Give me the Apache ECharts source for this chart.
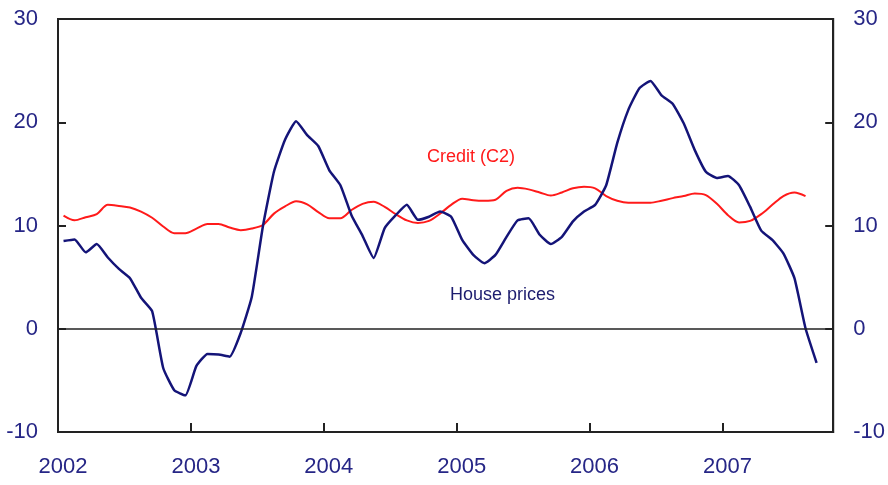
<!DOCTYPE html>
<html>
<head>
<meta charset="utf-8">
<title>House prices and credit</title>
<script src="https://cdn.jsdelivr.net/npm/echarts@6/dist/echarts.min.js"></script>
<style>
  html, body { margin: 0; padding: 0; background: #fff; }
  #main { width: 888px; height: 485px; }
</style>
</head>
<body>
<div id="main"></div>
<script>
// monthly, Jan 2002 = month 0, points plotted mid-month
var houseGrowth = [
  8.5, 8.65, 7.4, 8.2, 6.9, 5.8, 4.9, 3.0, 1.7, -3.8, -5.95, -6.45,
  -3.6, -2.45, -2.5, -2.7, -0.4, 3.1, 9.9, 15.2, 18.3, 20.1, 18.75, 17.7,
  15.35, 13.9, 11.0, 9.0, 6.85, 9.75, 11.0, 12.0, 10.55, 10.85, 11.35, 10.85,
  8.6, 7.15, 6.35, 7.15, 8.9, 10.5, 10.7, 9.1, 8.2, 8.9, 10.4, 11.35,
  12.0, 13.9, 18.0, 21.2, 23.3, 24.0, 22.6, 21.8, 19.9, 17.3, 15.2, 14.6,
  14.8, 13.9, 11.8, 9.5, 8.6, 7.3, 4.9, 0.05, -3.3
];
var creditGrowth = [
  10.95, 10.5, 10.8, 11.1, 12.0, 11.9, 11.75, 11.35, 10.75, 9.9, 9.25, 9.25,
  9.7, 10.15, 10.15, 9.8, 9.55, 9.7, 10.05, 11.15, 11.85, 12.35, 12.05, 11.3,
  10.7, 10.7, 11.5, 12.1, 12.3, 11.8, 11.1, 10.5, 10.25, 10.45, 11.15, 12.0,
  12.6, 12.45, 12.4, 12.5, 13.35, 13.65, 13.5, 13.2, 12.9, 13.2, 13.6, 13.75,
  13.6, 12.85, 12.4, 12.2, 12.2, 12.2, 12.4, 12.65, 12.85, 13.1, 12.95, 12.1,
  11.0, 10.3, 10.45, 11.1, 12.0, 12.85, 13.2, 12.85
];
var firstYear = 2002;
var yTicks = { min: -10, max: 30, step: 10 };

function toPoints(values) {
  return values.map(function (v, i) { return [i + 0.5, v]; });
}

var labelColor = '#262686';
var labelFont = '"Liberation Sans Narrow", "Liberation Sans", Arial, sans-serif';

function yAxisFor(pos) {
  return {
    type: 'value',
    position: pos,
    min: yTicks.min,
    max: yTicks.max,
    interval: yTicks.step,
    axisLine: { show: true, lineStyle: { color: '#222', width: 2 } },
    axisTick: { show: true, inside: true, length: 8, lineStyle: { color: '#222', width: 2 } },
    axisLabel: { color: labelColor, fontSize: 22, fontFamily: labelFont, margin: 20 },
    splitLine: { show: false }
  };
}

var myChart = echarts.init(document.getElementById('main'));
var option = {
  animation: false,
  backgroundColor: '#fff',
  grid: {
    left: 58, right: 52, top: 19, bottom: 53,
    show: true, borderColor: '#222', borderWidth: 2
  },
  xAxis: {
    type: 'value',
    min: 0,
    max: 70,
    interval: 12,
    axisLine: { show: true, onZero: false, lineStyle: { color: '#222', width: 2 } },
    axisTick: { show: true, inside: true, length: 9, lineStyle: { color: '#222', width: 2 } },
    axisLabel: {
      color: labelColor, fontSize: 22, fontFamily: labelFont, margin: 24,
      padding: [0, 0, 0, 10],
      formatter: function (v) { return v % 12 === 0 ? String(firstYear + v / 12) : ''; }
    },
    splitLine: { show: false }
  },
  yAxis: [yAxisFor('left'), yAxisFor('right')],
  series: [
    {
      name: 'Credit (C2)',
      type: 'line',
      data: toPoints(creditGrowth),
      showSymbol: false,
      smooth: 0.3,
      lineStyle: { color: '#ff1a1a', width: 2 },
      z: 3
    },
    {
      name: 'House prices',
      type: 'line',
      data: toPoints(houseGrowth),
      showSymbol: false,
      smooth: 0.15,
      lineStyle: { color: '#141478', width: 2.5 },
      z: 4,
      markLine: {
        silent: true,
        symbol: 'none',
        label: { show: false },
        lineStyle: { color: '#222', width: 1.5, type: 'solid' },
        data: [{ yAxis: 0 }]
      }
    }
  ],
  graphic: [
    {
      type: 'text', left: 427, top: 148,
      style: { text: 'Credit (C2)', fill: '#ff1a1a', font: '18px "Liberation Sans", Arial, sans-serif' }
    },
    {
      type: 'text', left: 450, top: 286,
      style: { text: 'House prices', fill: '#1c1c6e', font: '18px "Liberation Sans", Arial, sans-serif' }
    }
  ]
};
myChart.setOption(option);
</script>
</body>
</html>
